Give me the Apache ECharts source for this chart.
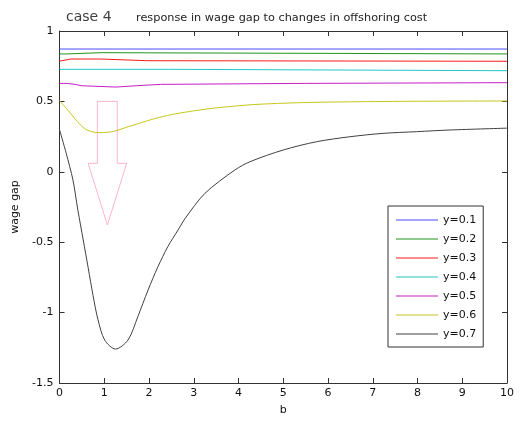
<!DOCTYPE html>
<html>
<head>
<meta charset="utf-8">
<script src="https://cdn.jsdelivr.net/npm/echarts@6/dist/echarts.min.js"></script>
<style>html,body{margin:0;padding:0;background:#fff;}#c{width:520px;height:423px;}</style>
</head>
<body>
<div id="c"></div>
<script>
const titleText = 'case 4';
const subtitleText = 'response in wage gap to changes in offshoring cost';
const xTicks = [0,1,2,3,4,5,6,7,8,9,10];
const yTicks = [-1.5,-1,-0.5,0,0.5,1];
const seriesNames = ['y=0.1','y=0.2','y=0.3','y=0.4','y=0.5','y=0.6','y=0.7'];

const y01 = [[0,0.872],[10,0.872]];
const y02 = [[0,0.837],[0.15,0.837],[0.18,0.846],[0.93,0.846],[0.96,0.837],[10,0.837]];
const y03 = [[0,0.786],[0.25,0.801],[0.93,0.801],[0.96,0.789],[1.96,0.789],[1.99,0.785],[10,0.785]];
const y04 = [[0,0.728],[2.43,0.728],[2.46,0.718],[10,0.718]];
const y05 = [[0,0.628],[0.15,0.628],[0.18,0.621],[0.35,0.621],[0.38,0.611],[0.5,0.611],[0.53,0.602],[1.26,0.602],[1.29,0.611],[1.71,0.611],[1.74,0.621],[2.26,0.621],[2.29,0.628],[5.5,0.628],[5.53,0.633],[10,0.633]];
const y06 = [[0,0.505],[0.18,0.44],[0.35,0.375],[0.56,0.307],[0.72,0.285],[0.86,0.278],[1.1,0.281],[1.3,0.295],[1.55,0.322],[1.76,0.342],[2.13,0.378],[2.5,0.406],[2.88,0.427],[3.25,0.444],[3.62,0.458],[4.37,0.478],[5.37,0.491],[6.5,0.497],[8,0.501],[10,0.503]];
const y07 = [[0,0.3],[0.15,0.131],[0.3,-0.058],[0.41,-0.271],[0.53,-0.484],[0.64,-0.68],[0.75,-0.88],[0.86,-1.05],[1.01,-1.195],[1.25,-1.259],[1.53,-1.195],[1.75,-1.029],[1.98,-0.839],[2.2,-0.674],[2.42,-0.532],[2.65,-0.413],[2.81,-0.33],[3.25,-0.153],[3.92,0.013],[4.26,0.072],[5.0,0.155],[5.75,0.214],[6.49,0.249],[7.23,0.273],[7.98,0.285],[8.73,0.297],[10,0.31]];
const arrowOutline = [[0.845,0.5],[1.29,0.5],[1.29,0.06],[1.5,0.06],[1.07,-0.378],[0.64,0.06],[0.845,0.06],[0.845,0.5]];

const seriesData = [y01,y02,y03,y04,y05,y06,y07];
const colors = ['#4b4bff','#1f961f','#ff1a1a','#22c6c6','#c41fc4','#c6c61a','#404040'];
const smoothFlags = [false,false,false,false,false,0.3,0.3];

const font = 'DejaVu Sans';
const chart = echarts.init(document.getElementById('c'), null, {renderer:'canvas'});

const series = seriesNames.map((n,i)=>({
  name:n, type:'line', data:seriesData[i], symbol:'none', smooth:smoothFlags[i],
  lineStyle:{color:colors[i], width:1}, itemStyle:{color:colors[i]}, z:3, animation:false
}));
series.push({
  name:'arrow', type:'line', data:arrowOutline, symbol:'none',
  lineStyle:{color:'#ffb3cc', width:1}, z:2, animation:false, silent:true
});

const axisLineStyle = {color:'#333', width:1};
chart.setOption({
  animation:false,
  title:[
    {text:titleText, left:61, top:5, textStyle:{fontFamily:font, fontSize:14, fontWeight:'normal', color:'#404040'}},
    {text:subtitleText, left:131, top:8, textStyle:{fontFamily:font, fontSize:11.3, fontWeight:'normal', color:'#222'}}
  ],
  grid:{left:59.5, right:13, top:31, bottom:40, containLabel:false},
  legend:{
    show:true, data:seriesNames, orient:'vertical', left:388, top:206,
    icon:'rect', itemWidth:42, itemHeight:1, itemGap:7, padding:[8,7,7,8],
    borderColor:'#333', borderWidth:1, backgroundColor:'#fff',
    textStyle:{fontFamily:font, fontSize:11, lineHeight:12, color:'#111'}, z:10
  },
  xAxis:[
    {type:'value', min:0, max:10, interval:1, position:'bottom',
     name:'b', nameLocation:'middle', nameGap:22, nameTextStyle:{fontFamily:font, fontSize:11, color:'#111'},
     axisLine:{show:true, onZero:false, lineStyle:axisLineStyle}, axisTick:{show:true, inside:true, length:5, lineStyle:axisLineStyle},
     axisLabel:{fontFamily:font, fontSize:11, color:'#111', margin:5, formatter:v=>String(v)}, splitLine:{show:false}},
    {type:'value', min:0, max:10, interval:1, position:'top',
     axisLine:{show:true, onZero:false, lineStyle:axisLineStyle}, axisTick:{show:true, inside:true, length:5, lineStyle:axisLineStyle},
     axisLabel:{show:false}, splitLine:{show:false}}
  ],
  yAxis:[
    {type:'value', min:-1.5, max:1, interval:0.5, position:'left',
     name:'wage gap', nameLocation:'middle', nameGap:33, nameRotate:90, nameTextStyle:{fontFamily:font, fontSize:11, color:'#111'},
     axisLine:{show:true, onZero:false, lineStyle:axisLineStyle}, axisTick:{show:true, inside:true, length:5, lineStyle:axisLineStyle},
     axisLabel:{fontFamily:font, fontSize:11, color:'#111', margin:6, formatter:v=>String(v)}, splitLine:{show:false}},
    {type:'value', min:-1.5, max:1, interval:0.5, position:'right',
     axisLine:{show:true, onZero:false, lineStyle:axisLineStyle}, axisTick:{show:true, inside:true, length:5, lineStyle:axisLineStyle},
     axisLabel:{show:false}, splitLine:{show:false}}
  ],
  series:series
});
</script>
</body>
</html>
